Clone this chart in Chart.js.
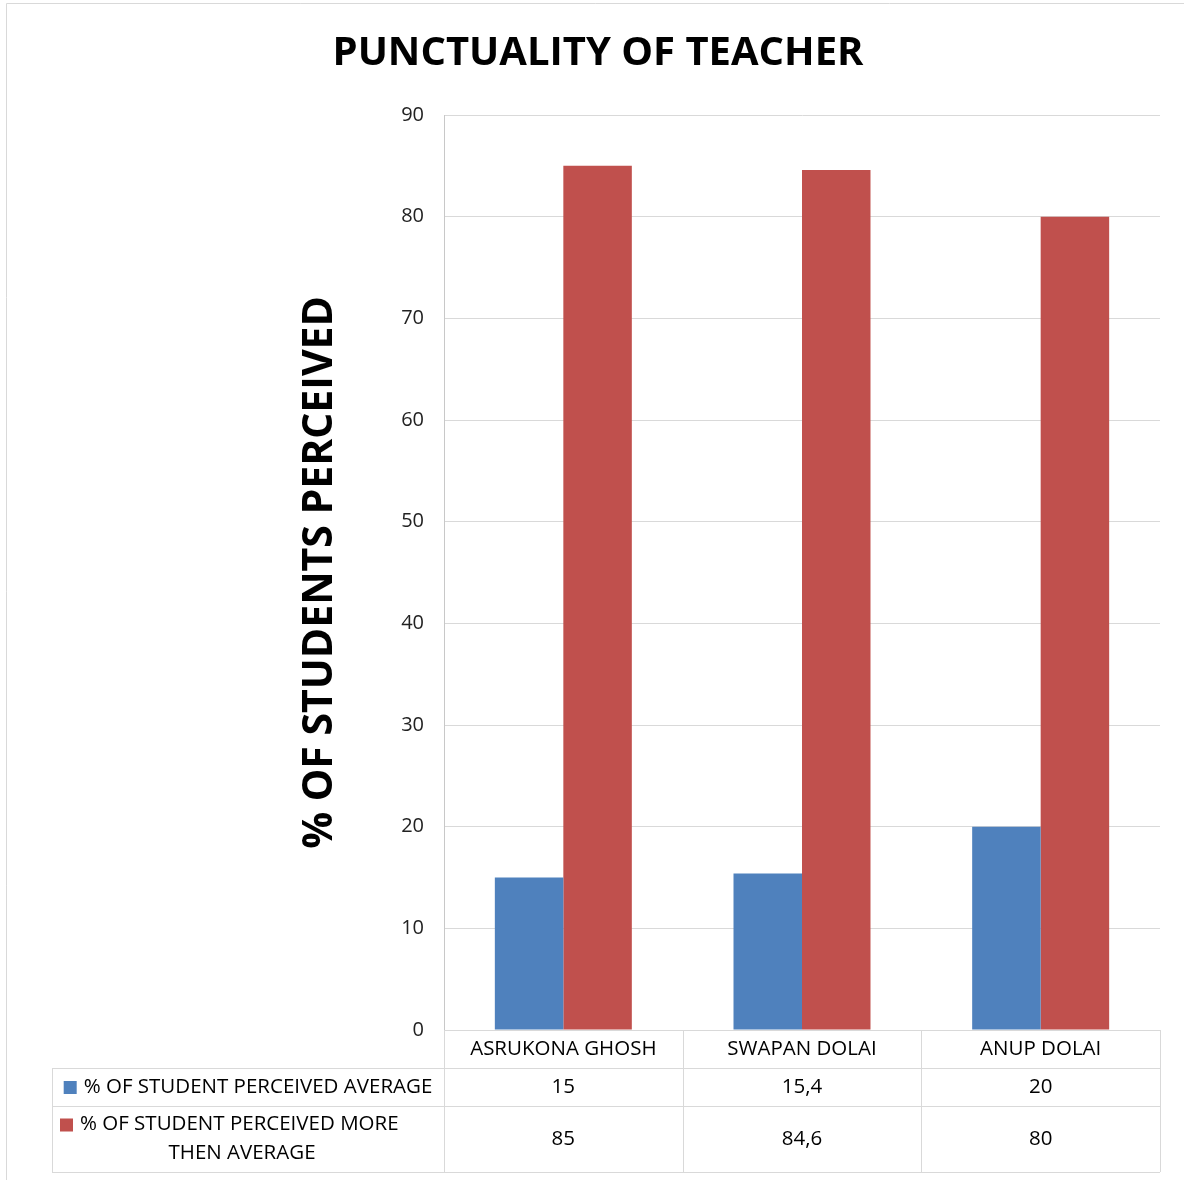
<!DOCTYPE html>
<html>
<head>
<meta charset="utf-8">
<title>Punctuality of teacher</title>
<script src="https://cdn.jsdelivr.net/npm/chart.js@4"></script>
<style>
    html, body { margin: 0; padding: 0; background: #fff; }
    canvas { display: block; }
</style>
</head>
<body>
<canvas id="grafico" width="1184" height="1180"></canvas>
<script>
// Datos del grafico
const categorias = ['ASRUKONA GHOSH', 'SWAPAN DOLAI', 'ANUP DOLAI'];
const nombresSeries = ['% OF STUDENT PERCEIVED AVERAGE', '% OF STUDENT PERCEIVED MORE THEN AVERAGE'];
const promedio = [15, 15.4, 20];
const masQuePromedio = [85, 84.6, 80];
const ticksY = [0, 10, 20, 30, 40, 50, 60, 70, 80, 90];

const colores = ['#4F81BD', '#C0504D'];
const fuente = "'Open Sans', 'Noto Sans', sans-serif";
const lineaGris = '#d9d9d9';

function formatear(v) {
    return String(v).replace('.', ',');
}

// partir texto en lineas segun el ancho disponible
function partirTexto(ctx, texto, ancho) {
    const palabras = texto.split(' ');
    const lineas = [];
    let actual = '';
    palabras.forEach(p => {
        const prueba = actual ? actual + ' ' + p : p;
        if (ctx.measureText(prueba).width > ancho && actual) {
            lineas.push(actual);
            actual = p;
        } else {
            actual = prueba;
        }
    });
    lineas.push(actual);
    return lineas;
}

// marco exterior
const marco = {
    id: 'marco',
    beforeDraw(chart) {
        const ctx = chart.ctx;
        ctx.save();
        ctx.strokeStyle = lineaGris;
        ctx.lineWidth = 1;
        ctx.beginPath();
        ctx.moveTo(6.5, chart.height);
        ctx.lineTo(6.5, 3.5);
        ctx.lineTo(chart.width, 3.5);
        ctx.stroke();
        ctx.restore();
    }
};

// tabla de datos debajo del grafico
const tablaDatos = {
    id: 'tablaDatos',
    afterDraw(chart) {
        const { ctx, chartArea } = chart;
        const izq = 52;
        const y0 = chartArea.bottom;
        const filas = [y0, y0 + 38, y0 + 76, y0 + 142];
        const anchoCol = chartArea.width / categorias.length;
        const cortes = categorias.map((c, i) => chartArea.left + i * anchoCol).concat(chartArea.right);

        ctx.save();
        ctx.strokeStyle = lineaGris;
        ctx.lineWidth = 1;
        ctx.beginPath();
        ctx.moveTo(chartArea.left, filas[0] + 0.5);
        ctx.lineTo(chartArea.right, filas[0] + 0.5);
        for (let i = 1; i < filas.length; i++) {
            ctx.moveTo(izq, filas[i] + 0.5);
            ctx.lineTo(chartArea.right, filas[i] + 0.5);
        }
        ctx.moveTo(izq + 0.5, filas[1]);
        ctx.lineTo(izq + 0.5, filas[3]);
        cortes.forEach(x => {
            ctx.moveTo(Math.round(x) + 0.5, filas[0]);
            ctx.lineTo(Math.round(x) + 0.5, filas[3]);
        });
        ctx.stroke();

        ctx.fillStyle = '#000';
        ctx.font = '20.5px ' + fuente;
        ctx.textAlign = 'center';
        ctx.textBaseline = 'middle';

        const centros = categorias.map((c, i) => (cortes[i] + cortes[i + 1]) / 2);
        categorias.forEach((c, i) => ctx.fillText(c, centros[i], (filas[0] + filas[1]) / 2));

        const valores = [promedio, masQuePromedio];
        valores.forEach((serie, s) => {
            const yc = (filas[s + 1] + filas[s + 2]) / 2;
            serie.forEach((v, i) => {
                ctx.fillStyle = '#000';
                ctx.fillText(formatear(v), centros[i], yc);
            });

            // etiqueta de la serie con su cuadrado de color
            const colCentro = (izq + chartArea.left) / 2;
            const lineas = partirTexto(ctx, nombresSeries[s], chartArea.left - izq - 30);
            const alto = 29;
            let y = yc - (lineas.length - 1) * alto / 2;
            lineas.forEach((l, k) => {
                const w = ctx.measureText(l).width;
                if (k === 0) {
                    const total = w + 20;
                    const x0 = lineas.length > 1 ? izq + 8 : colCentro - total / 2;
                    ctx.fillStyle = colores[s];
                    ctx.fillRect(x0, y - 6, 13, 13);
                    ctx.fillStyle = '#000';
                    ctx.textAlign = 'left';
                    ctx.fillText(l, x0 + 20, y);
                    ctx.textAlign = 'center';
                } else {
                    ctx.fillStyle = '#000';
                    ctx.fillText(l, colCentro - 6, y);
                }
                y += alto;
            });
        });
        ctx.restore();
    }
};

new Chart(document.getElementById('grafico'), {
    type: 'bar',
    data: {
        labels: categorias,
        datasets: [{
            label: nombresSeries[0],
            data: promedio,
            backgroundColor: colores[0],
            categoryPercentage: 0.574,
            barPercentage: 1
        }, {
            label: nombresSeries[1],
            data: masQuePromedio,
            backgroundColor: colores[1],
            categoryPercentage: 0.574,
            barPercentage: 1
        }]
    },
    options: {
        responsive: false,
        animation: false,
        layout: {
            padding: { left: 36, right: 24, top: 0, bottom: 150 }
        },
        plugins: {
            legend: { display: false },
            tooltip: { enabled: false },
            title: {
                display: true,
                text: 'PUNCTUALITY OF TEACHER',
                color: '#000',
                font: { family: fuente, size: 40, weight: 'bold' },
                padding: { top: 30, bottom: 37 }
            }
        },
        scales: {
            x: {
                display: false
            },
            y: {
                min: 0,
                max: 90,
                afterFit(scale) { scale.width = 408; },
                afterBuildTicks(scale) { scale.ticks = ticksY.map(v => ({ value: v })); },
                ticks: {
                    color: '#222',
                    padding: 20,
                    font: { family: fuente, size: 20 }
                },
                grid: { color: lineaGris, drawTicks: false },
                border: { color: '#c8c8c8' },
                title: {
                    display: true,
                    text: '% OF STUDENTS PERCEIVED',
                    color: '#000',
                    font: { family: fuente, size: 41, weight: 'bold' },
                    padding: { top: 260, bottom: 0 }
                }
            }
        }
    },
    plugins: [marco, tablaDatos]
});
</script>
</body>
</html>
